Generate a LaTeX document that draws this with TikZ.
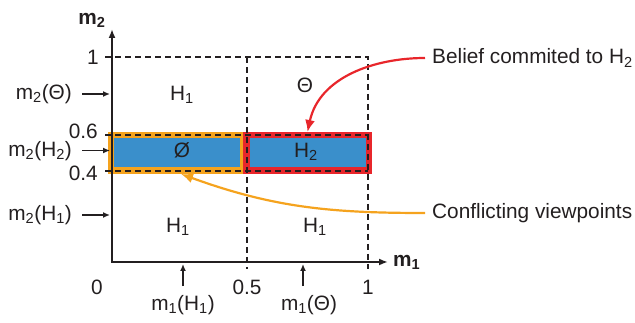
\documentclass[tikz,border=0pt]{standalone}
\usepackage{fontspec}
\setmainfont{Liberation Sans}
\usetikzlibrary{positioning,calc,arrows.meta}
\usepackage{xcolor}
\definecolor{ink}{HTML}{231F20}
\definecolor{barblue}{HTML}{3A8FCB}
\definecolor{conforange}{HTML}{F5A31E}
\definecolor{belred}{HTML}{E8262B}

\begin{document}
\begin{tikzpicture}[
    x=1pt, y=1pt,
    lbl/.style={font=\fontsize{20.8}{25}\selectfont, text=ink, inner sep=1pt},
    axlbl/.style={font=\fontsize{20.8}{25}\selectfont\bfseries, text=ink, inner sep=1pt},
    axis/.style={draw=ink, line width=2.2pt},
    guide/.style={draw=ink, line width=1.5pt, dash pattern=on 6pt off 4pt},
    mass/.style={rectangle, draw=#1, fill=barblue, line width=6.5pt, inner sep=0pt,
                 minimum height=35.5pt},
    tickarrow/.style={-{Latex[length=7pt,width=6pt]}, draw=ink, line width=1.5pt},
    hint/.style={-{Latex[length=12pt,width=10pt]}, draw=#1, line width=2.2pt}
]
\useasboundingbox (0,0) rectangle (635,323);

% Mass boxes
\node[mass=conforange, minimum width=132pt] (emptybox) at (177,170) {};
\node[mass=belred, minimum width=122.5pt] (h2box) at (307.5,170) {};

% Axes
\coordinate (O) at (112,61);
\coordinate (ytop) at (112,294);
\coordinate (xend) at (388,61);
\draw[axis, {Latex[length=9pt,width=7pt]}-{Latex[length=9pt,width=7pt]}] (ytop) |- (xend);
\node[axlbl] (m2) at (92,303) {m\textsubscript{2}};
\node[axlbl, right=4pt of xend] (m1) {m\textsubscript{1}};

% Dashed grid
\draw[guide] (105,266) -| (368,54);
\draw[guide] (247,266) -- (247,54);
\draw[guide] (105,188) -- (368,188);
\draw[guide] (105,152) -- (368,152);

% Tick labels
\node[lbl, anchor=east] (t1) at (100,266) {1};
\node[lbl, anchor=east, inner sep=0pt] (t06) at (98,192) {0.6};
\node[lbl, anchor=east, inner sep=0pt] (t04) at (98,150) {0.4};
\node[lbl] (t0) at (97,36) {0};
\node[lbl] (t05) at (247,36) {0.5};
\node[lbl] (t1x) at (368,36) {1};

% Regions
\node[lbl] (h1top) at (182,228) {H\textsubscript{1}};
\node[lbl] (thtop) at (305,238) {Θ};
\node[lbl] (empty) at (182,173) {Ø};
\node[lbl] (h2) at (306,171) {H\textsubscript{2}};
\node[lbl] (h1lo) at (178,96) {H\textsubscript{1}};
\node[lbl] (h1hi) at (315,96) {H\textsubscript{1}};

% Left: m2 masses
\node[lbl, anchor=east] (m2th) at (73,229) {m\textsubscript{2}(Θ)};
\node[lbl, anchor=east, inner sep=0pt] (m2h2) at (72,171.5) {m\textsubscript{2}(H\textsubscript{2})};
\node[lbl, anchor=east] (m2h1) at (73,108) {m\textsubscript{2}(H\textsubscript{1})};
\draw[tickarrow, shorten <=9pt, shorten >=2pt] (m2th.east) -- (m2th.east -| O);
\draw[tickarrow, shorten <=10pt, shorten >=2pt] ([yshift=1pt]m2h2.east) -- ([yshift=1pt]m2h2.east -| O);
\draw[tickarrow, shorten <=9pt, shorten >=2pt] (m2h1.east) -- (m2h1.east -| O);

% Bottom: m1 masses
\node[lbl] (m1h1) at (183,18) {m\textsubscript{1}(H\textsubscript{1})};
\node[lbl] (m1th) at (309,18) {m\textsubscript{1}(Θ)};
\draw[tickarrow, shorten >=2pt] ([yshift=8pt]m1h1.north) -- (m1h1.north |- O);
\draw[tickarrow, shorten >=2pt] ([shift={(-6pt,8pt)}]m1th.north) -- ([xshift=-6pt]m1th.north |- O);

% Right: annotations
\node[lbl, anchor=west] (belief) at (431,265) {Belief commited to H\textsubscript{2}};
\node[lbl, anchor=west] (conflict) at (431,110) {Conflicting viewpoints};
\draw[hint=belred, shorten <=6pt] (belief.west) to[out=180, in=78] (h2box.north);
\draw[hint=conforange, shorten <=6pt] (conflict.west) to[out=180, in=-20] ([xshift=4pt]emptybox.south);

\end{tikzpicture}
\end{document}
